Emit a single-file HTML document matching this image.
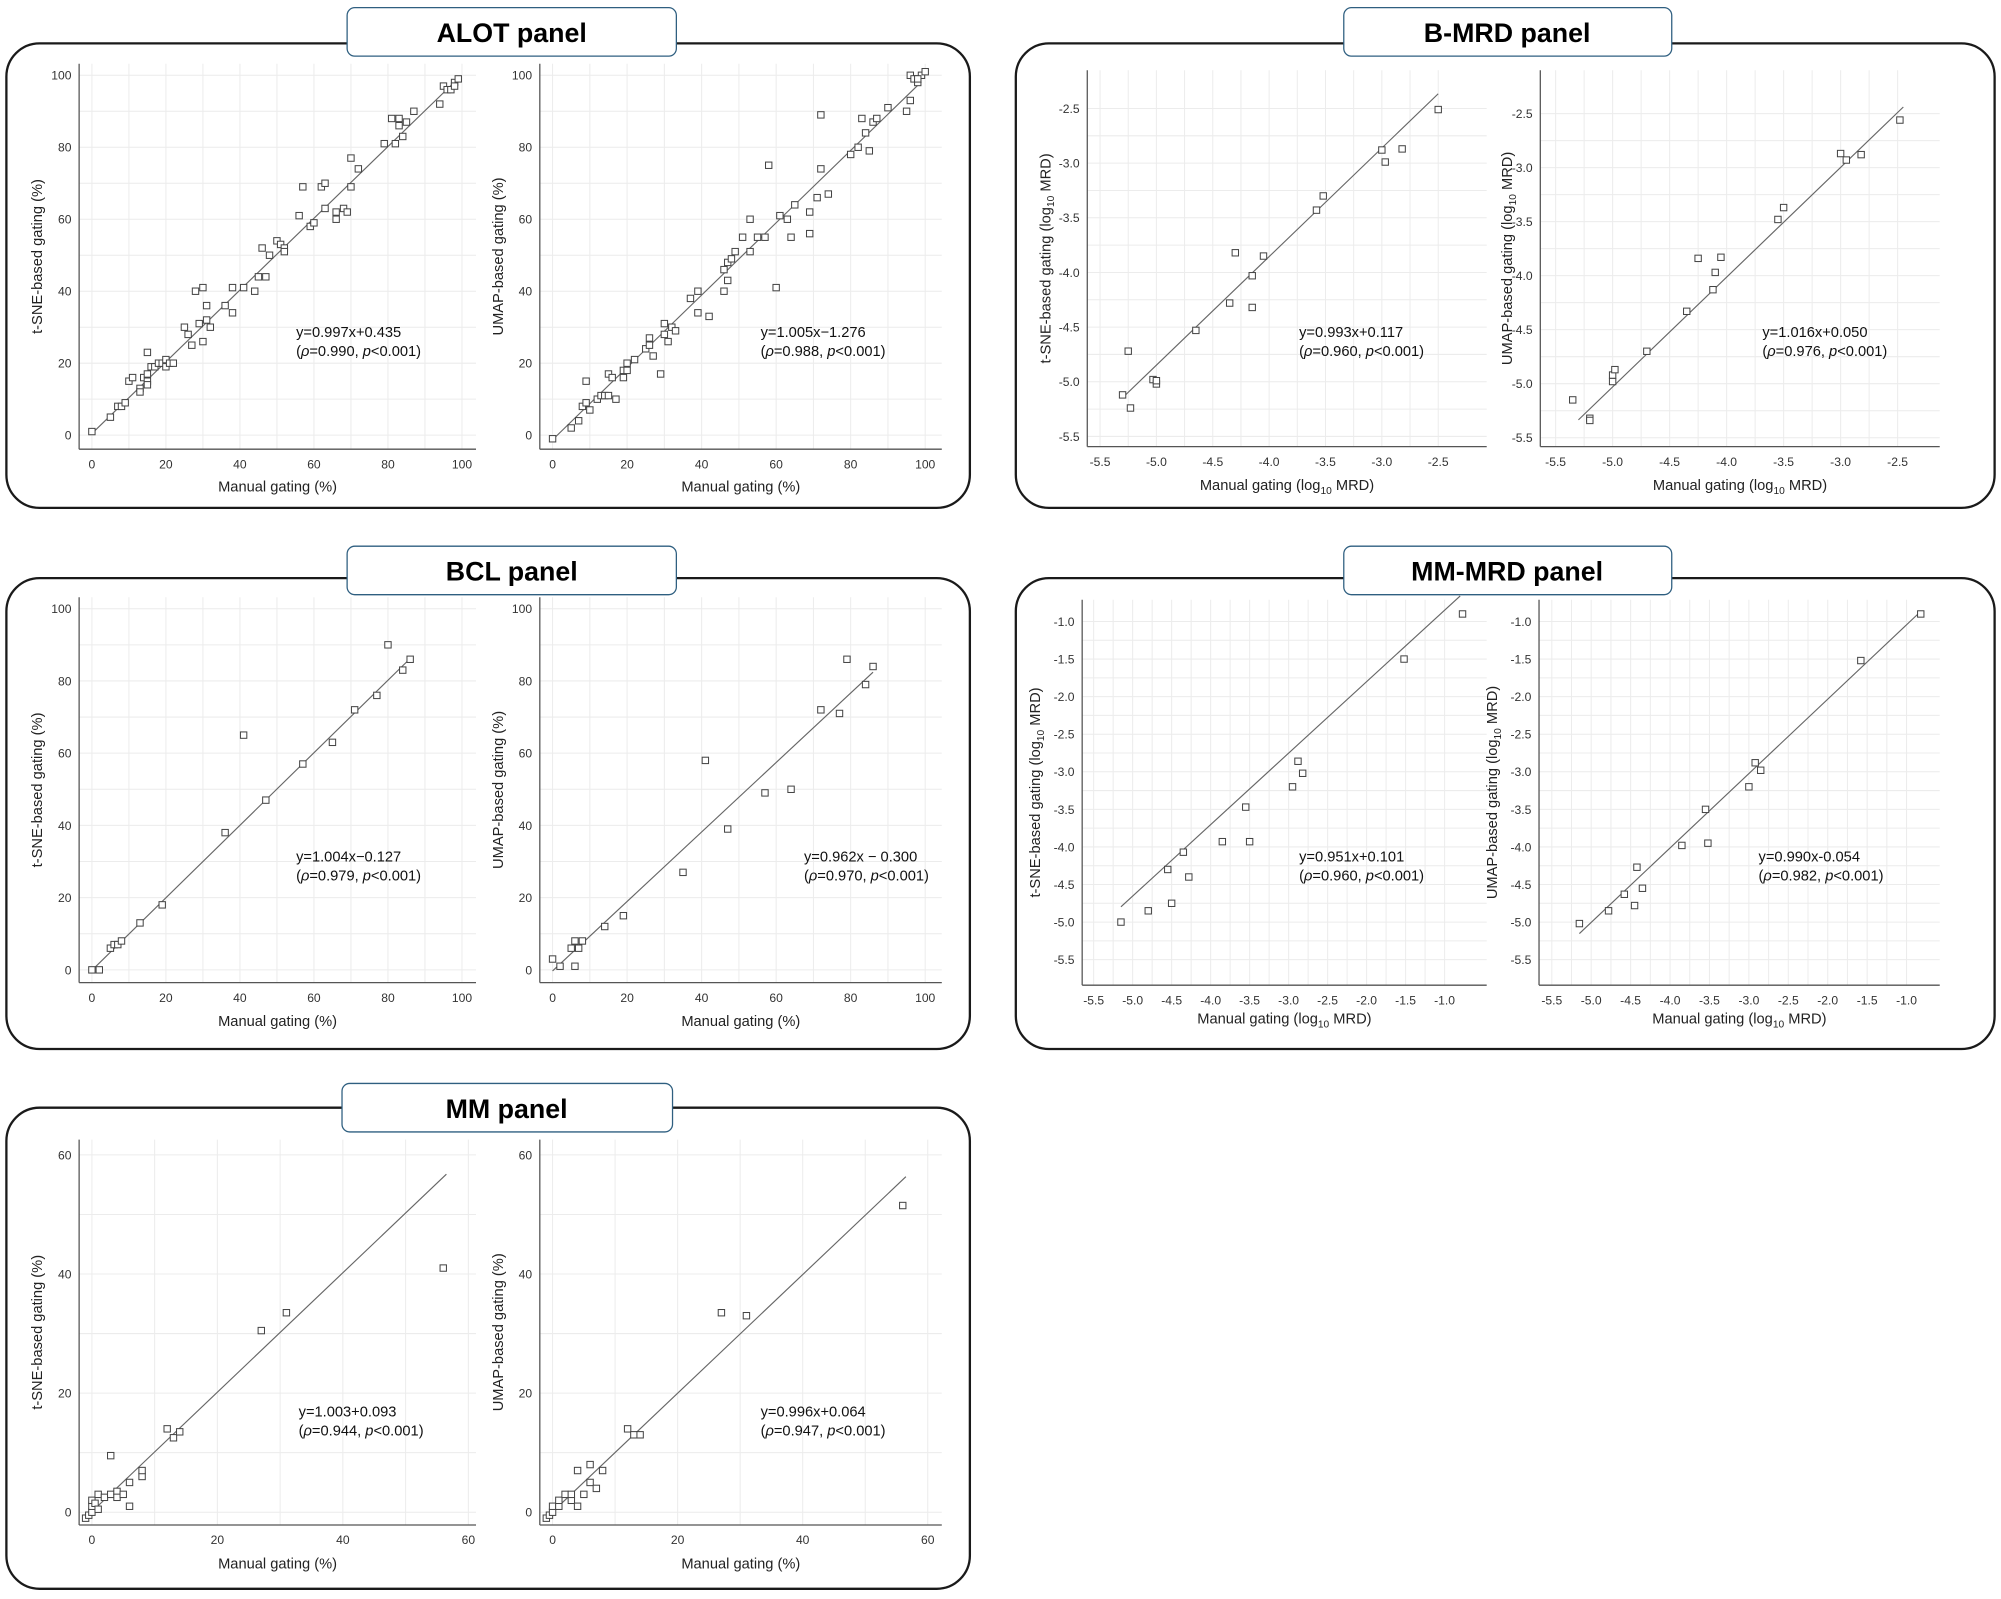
<!DOCTYPE html>
<html><head><meta charset="utf-8"><style>
html,body{margin:0;padding:0;background:#fff;}
svg{display:block;font-family:"Liberation Sans",Arial,sans-serif;}
</style></head><body>
<svg id="s" width="2001" height="1599" viewBox="0 0 1568 1253" xmlns="http://www.w3.org/2000/svg">
<rect width="1568" height="1253" fill="#fff"/>
<g fill="none" stroke="#1a1a1a" stroke-width="1.8">
<rect x="5" y="34" width="755" height="364" rx="26"/>
<rect x="796" y="34" width="767" height="364" rx="26"/>
<rect x="5" y="453" width="755" height="369" rx="26"/>
<rect x="796" y="453" width="767" height="369" rx="26"/>
<rect x="5" y="868" width="755" height="377" rx="26"/>
</g>
<g fill="#fff" stroke="#2f5f80" stroke-width="1">
<rect x="272" y="6" width="258" height="38" rx="6"/>
<rect x="1053" y="6" width="257" height="38" rx="6"/>
<rect x="272" y="428" width="258" height="38" rx="6"/>
<rect x="1053" y="428" width="257" height="38" rx="6"/>
<rect x="268" y="849" width="259" height="38" rx="6"/>
</g>
<g font-weight="bold" font-size="21" text-anchor="middle" fill="#000">
<text x="401" y="33">ALOT panel</text>
<text x="1181" y="33">B-MRD panel</text>
<text x="401" y="455">BCL panel</text>
<text x="1181" y="455">MM-MRD panel</text>
<text x="397" y="876">MM panel</text>
</g>
<g id="plots"></g>
</svg>
<script>
const NS="http://www.w3.org/2000/svg";
const G=document.getElementById("plots");
function el(t,a,txt){const e=document.createElementNS(NS,t);for(const k in a)e.setAttribute(k,a[k]);if(txt!==undefined)e.textContent=txt;G.appendChild(e);return e;}
function plot(p){
 const sx=(p.xb[1]-p.xa[1])/(p.xb[0]-p.xa[0]), sy=(p.yb[1]-p.ya[1])/(p.yb[0]-p.ya[0]);
 const X=x=>p.xa[1]+(x-p.xa[0])*sx, Y=y=>p.ya[1]+(y-p.ya[0])*sy;
 for(let v=p.t0;v<=p.t1+1e-9;v+=p.step/2){
   const px=X(v); if(px>p.ax && px<p.right) el("line",{x1:px,x2:px,y1:p.top,y2:p.bot,stroke:"#ececec","stroke-width":0.8});
 }
 for(let v=p.u0;v<=p.u1+1e-9;v+=p.ustep/2){
   const py=Y(v); if(py>p.top && py<p.bot) el("line",{x1:p.ax,x2:p.right,y1:py,y2:py,stroke:"#ececec","stroke-width":0.8});
 }
 el("line",{x1:p.ax,x2:p.ax,y1:p.top,y2:p.bot,stroke:"#555","stroke-width":1});
 el("line",{x1:p.ax,x2:p.right,y1:p.bot,y2:p.bot,stroke:"#555","stroke-width":1});
 for(let v=p.t0;v<=p.t1+1e-9;v+=p.step){
   el("text",{x:X(v),y:p.bot+15,"font-size":9.5,"text-anchor":"middle",fill:"#333"},p.fmt(v));
 }
 for(let v=p.u0;v<=p.u1+1e-9;v+=p.ustep){
   el("text",{x:p.ax-6,y:Y(v)+3.5,"font-size":9.5,"text-anchor":"end",fill:"#333"},p.fmt(v));
 }
 el("line",{x1:X(p.line[0]),y1:Y(p.line[0]*p.m+p.c),x2:X(p.line[1]),y2:Y(p.line[1]*p.m+p.c),stroke:"#666","stroke-width":0.9});
 for(const [x,y] of p.pts){
   el("rect",{x:X(x)-2.5,y:Y(y)-2.5,width:5,height:5,fill:"#fff",stroke:"#444","stroke-width":0.8});
 }
 const xl=el("text",{x:(p.ax+p.right)/2,y:p.xly,"font-size":11.5,"text-anchor":"middle",fill:"#222"});
 const yl=el("text",{transform:`translate(${p.ylx},${(p.top+p.bot)/2}) rotate(-90)`,"font-size":11.5,"text-anchor":"middle",fill:"#222"});
 if(p.log){
   xl.innerHTML='Manual gating (log<tspan font-size="8" dy="3">10</tspan><tspan dy="-3"> MRD)</tspan>';
   yl.innerHTML=p.yname+' gating (log<tspan font-size="8" dy="3">10</tspan><tspan dy="-3"> MRD)</tspan>';
 } else { xl.textContent="Manual gating (%)"; yl.textContent=p.yname+" gating (%)"; }
 el("text",{x:p.eq[0],y:p.eq[1],"font-size":11.5,fill:"#111"},p.eqt);
 const t2=el("text",{x:p.eq[0],y:p.eq[1]+15,"font-size":11.5,fill:"#111"});
 t2.innerHTML='(<tspan font-style="italic">ρ</tspan>='+p.rho+', <tspan font-style="italic">p</tspan>&lt;0.001)';
}
const pf=v=>String(Math.round(v)), lf=v=>v.toFixed(1);
const alotL=[[0,1],[5,5],[7,8],[8,8],[9,9],[10,15],[11,16],[13,13],[13,12],[14,16],[15,17],[15,15],[15,14],[15,23],[16,19],[17,19],[18,20],[19,20],[20,21],[20,19],[21,20],[22,20],[25,30],[26,28],[27,25],[28,40],[29,31],[30,26],[30,41],[31,32],[31,36],[32,30],[36,36],[38,41],[38,34],[41,41],[44,40],[45,44],[46,52],[47,44],[48,50],[50,54],[51,53],[52,52],[52,51],[56,61],[57,69],[59,58],[60,59],[62,69],[63,63],[63,70],[66,60],[66,62],[68,63],[69,62],[70,77],[70,69],[72,74],[79,81],[81,88],[82,81],[83,88],[83,86],[84,83],[85,87],[87,90],[94,92],[95,97],[96,96],[97,96],[98,98],[98,97],[99,99]];
const alotR=[[0,-1],[5,2],[7,4],[8,8],[9,9],[9,15],[10,7],[12,10],[13,11],[14,11],[15,17],[15,11],[16,16],[17,10],[19,18],[19,16],[20,18],[20,20],[22,21],[25,24],[26,27],[26,25],[27,22],[29,17],[30,31],[30,28],[31,26],[32,30],[33,29],[37,38],[39,34],[39,40],[42,33],[46,40],[46,46],[47,48],[47,43],[48,49],[49,51],[51,55],[53,60],[53,51],[55,55],[57,55],[58,75],[60,41],[61,61],[63,60],[64,55],[65,64],[69,62],[69,56],[71,66],[72,74],[72,89],[74,67],[80,78],[82,80],[83,88],[84,84],[85,79],[86,87],[87,88],[90,91],[95,90],[96,93],[96,100],[97,99],[98,98],[99,100],[100,101],[98,99]];
plot({xa:[0,72],xb:[100,362],ya:[0,341],yb:[100,59],ax:62,right:373,top:50,bot:352,t0:0,t1:100,step:20,u0:0,u1:100,ustep:20,fmt:pf,m:0.997,c:0.435,line:[0,98],pts:alotL,xly:385,ylx:33,yname:"t-SNE-based",eq:[232,264],eqt:"y=0.997x+0.435",rho:"0.990"});
plot({xa:[0,433],xb:[100,725],ya:[0,341],yb:[100,59],ax:423,right:738,top:50,bot:352,t0:0,t1:100,step:20,u0:0,u1:100,ustep:20,fmt:pf,m:1.005,c:-1.276,line:[0,99],pts:alotR,xly:385,ylx:394,yname:"UMAP-based",eq:[596,264],eqt:"y=1.005x−1.276",rho:"0.988"});
const bclL=[[0,0],[2,0],[5,6],[6,7],[7,7],[8,8],[13,13],[19,18],[36,38],[41,65],[47,47],[57,57],[65,63],[71,72],[77,76],[80,90],[84,83],[86,86]];
const bclR=[[0,3],[2,1],[5,6],[6,1],[6,8],[7,6],[8,8],[14,12],[19,15],[35,27],[41,58],[47,39],[57,49],[64,50],[72,72],[77,71],[79,86],[84,79],[86,84]];
plot({xa:[0,72],xb:[100,362],ya:[0,760],yb:[100,477],ax:62,right:373,top:468,bot:770,t0:0,t1:100,step:20,u0:0,u1:100,ustep:20,fmt:pf,m:1.004,c:-0.127,line:[0,86],pts:bclL,xly:804,ylx:33,yname:"t-SNE-based",eq:[232,675],eqt:"y=1.004x−0.127",rho:"0.979"});
plot({xa:[0,433],xb:[100,725],ya:[0,760],yb:[100,477],ax:423,right:738,top:468,bot:770,t0:0,t1:100,step:20,u0:0,u1:100,ustep:20,fmt:pf,m:0.962,c:-0.3,line:[0,86],pts:bclR,xly:804,ylx:394,yname:"UMAP-based",eq:[630,675],eqt:"y=0.962x − 0.300",rho:"0.970"});
const mmL=[[-1,-1],[-0.5,-0.5],[0,0],[0,1],[0,2],[0.5,1.5],[1,0.5],[1,3],[2,2.5],[3,3],[3,9.5],[4,3.5],[4,2.5],[5,3],[6,5],[6,1],[8,6],[8,7],[12,14],[13,12.5],[14,13.5],[27,30.5],[31,33.5],[56,41]];
const mmR=[[-1,-1],[-0.5,-0.5],[0,0],[0,1],[1,1],[1,2],[2,3],[3,2],[3,3],[4,1],[4,7],[5,3],[6,5],[6,8],[7,4],[8,7],[12,14],[13,13],[14,13],[27,33.5],[31,33],[56,51.5]];
plot({xa:[0,72],xb:[60,367],ya:[0,1185],yb:[60,905],ax:62,right:373,top:893,bot:1195,t0:0,t1:60,step:20,u0:0,u1:60,ustep:20,fmt:pf,m:1.003,c:0.093,line:[-1,56.5],pts:mmL,xly:1229,ylx:33,yname:"t-SNE-based",eq:[234,1110],eqt:"y=1.003+0.093",rho:"0.944"});
plot({xa:[0,433],xb:[60,727],ya:[0,1185],yb:[60,905],ax:423,right:738,top:893,bot:1195,t0:0,t1:60,step:20,u0:0,u1:60,ustep:20,fmt:pf,m:0.996,c:0.064,line:[-1,56.5],pts:mmR,xly:1229,ylx:394,yname:"UMAP-based",eq:[596,1110],eqt:"y=0.996x+0.064",rho:"0.947"});
const bL=[[-5.30,-5.12],[-5.25,-4.72],[-5.23,-5.24],[-5.03,-4.98],[-5.0,-5.02],[-5.0,-4.99],[-4.65,-4.53],[-4.35,-4.28],[-4.3,-3.82],[-4.15,-4.03],[-4.15,-4.32],[-4.05,-3.85],[-3.58,-3.43],[-3.52,-3.3],[-3.0,-2.88],[-2.97,-2.99],[-2.82,-2.87],[-2.5,-2.51]];
const bR=[[-5.35,-5.15],[-5.2,-5.32],[-5.2,-5.34],[-5.0,-4.98],[-5.0,-4.92],[-4.98,-4.87],[-4.7,-4.7],[-4.35,-4.33],[-4.25,-3.84],[-4.12,-4.13],[-4.1,-3.97],[-4.05,-3.83],[-3.55,-3.48],[-3.5,-3.37],[-3.0,-2.87],[-2.95,-2.93],[-2.82,-2.88],[-2.48,-2.56]];
plot({log:1,xa:[-5.5,862],xb:[-2.5,1127],ya:[-2.5,85],yb:[-5.5,342],ax:852,right:1165,top:55,bot:350,t0:-5.5,t1:-2.5,step:0.5,u0:-5.5,u1:-2.5,ustep:0.5,fmt:lf,m:0.993,c:0.117,line:[-5.3,-2.5],pts:bL,xly:384,ylx:823,yname:"t-SNE-based",eq:[1018,264],eqt:"y=0.993x+0.117",rho:"0.960"});
plot({log:1,xa:[-5.5,1219],xb:[-2.5,1487],ya:[-2.5,89],yb:[-5.5,343],ax:1207,right:1520,top:55,bot:350,t0:-5.5,t1:-2.5,step:0.5,u0:-5.5,u1:-2.5,ustep:0.5,fmt:lf,m:1.016,c:0.05,line:[-5.3,-2.45],pts:bR,xly:384,ylx:1185,yname:"UMAP-based",eq:[1381,264],eqt:"y=1.016x+0.050",rho:"0.976"});
const mL=[[-5.15,-5.0],[-4.8,-4.85],[-4.55,-4.3],[-4.5,-4.75],[-4.35,-4.07],[-4.28,-4.4],[-3.85,-3.93],[-3.55,-3.47],[-3.5,-3.93],[-2.95,-3.2],[-2.88,-2.86],[-2.82,-3.02],[-1.52,-1.5],[-0.77,-0.9]];
const mR=[[-5.15,-5.02],[-4.78,-4.85],[-4.58,-4.63],[-4.45,-4.78],[-4.42,-4.27],[-4.35,-4.55],[-3.85,-3.98],[-3.55,-3.5],[-3.52,-3.95],[-3.0,-3.2],[-2.92,-2.88],[-2.85,-2.98],[-1.58,-1.52],[-0.82,-0.9]];
plot({log:1,xa:[-5.5,857],xb:[-1.0,1132],ya:[-1.0,487],yb:[-5.5,752],ax:848,right:1165,top:470,bot:772,t0:-5.5,t1:-1.0,step:0.5,u0:-5.5,u1:-1.0,ustep:0.5,fmt:lf,m:0.951,c:0.101,line:[-5.15,-0.8],pts:mL,xly:802,ylx:815,yname:"t-SNE-based",eq:[1018,675],eqt:"y=0.951x+0.101",rho:"0.960"});
plot({log:1,xa:[-5.5,1216],xb:[-1.0,1494],ya:[-1.0,487],yb:[-5.5,752],ax:1206,right:1520,top:470,bot:772,t0:-5.5,t1:-1.0,step:0.5,u0:-5.5,u1:-1.0,ustep:0.5,fmt:lf,m:0.99,c:-0.054,line:[-5.15,-0.82],pts:mR,xly:802,ylx:1173,yname:"UMAP-based",eq:[1378,675],eqt:"y=0.990x-0.054",rho:"0.982"});
</script>
</body></html>
